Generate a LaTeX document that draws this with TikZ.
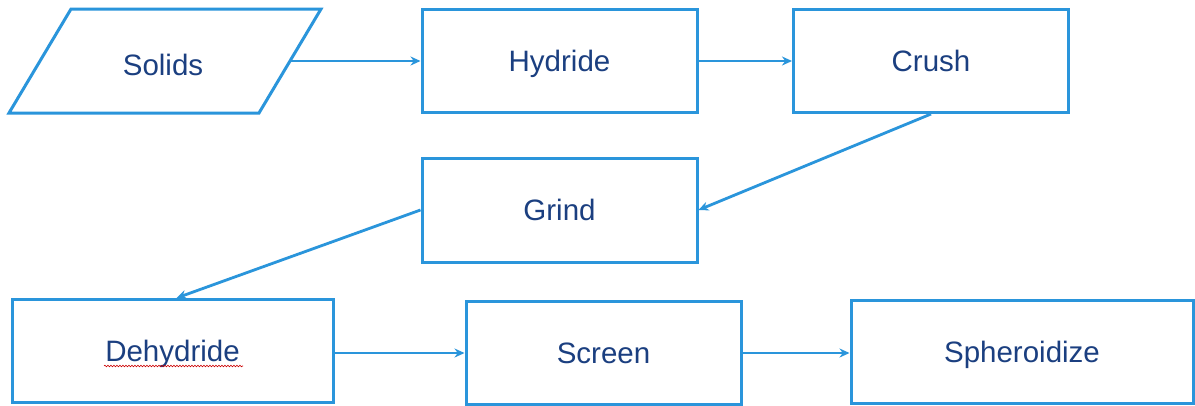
\documentclass[tikz,border=0pt]{standalone}
\usepackage{fontspec}
\setmainfont{Liberation Sans}
\usetikzlibrary{arrows.meta,decorations.pathmorphing,calc}
\definecolor{edgeblue}{HTML}{2A95DB}
\definecolor{txtblue}{HTML}{1B3F80}
\tikzset{
  lbl/.style={text=txtblue, font=\fontsize{29.5}{34}\selectfont, inner sep=0pt,
    text height=21pt, text depth=0pt},
  stepbox/.style={lbl, draw=edgeblue, line width=3pt, fill=white,
    minimum width=275pt, minimum height=103pt},
  iopath/.style={draw=edgeblue, line width=3pt, line join=miter, fill=white},
  flow/.style={draw=edgeblue, line width=2.8pt, -{Stealth[length=10pt,width=9pt]}}
}
\begin{document}
\begin{tikzpicture}[x=1pt,y=-1pt]
\useasboundingbox[fill=white] (0,0) rectangle (1195,405);
\coordinate (sBL) at (9,113);
\coordinate (sTL) at (71,9);
\coordinate (sTR) at (321,9);
\coordinate (sBR) at (259,113);
\draw[iopath] (sBL) -- (sTL) -- (sTR) -- (sBR) -- cycle;
\node[lbl] (solids) at (163,64.5) {Solids};
\coordinate (solidsR) at (291,61);
\node[stepbox] (hydride) at (559.5,61) {Hydride};
\node[stepbox] (crush) at (931,61) {Crush};
\node[stepbox, minimum height=104pt] (grind) at (559.5,210) {Grind};
\node[stepbox, minimum width=321pt] (dehydride) at (172.5,351) {Dehydride};
\node[stepbox] (screen) at (603.5,353) {Screen};
\node[stepbox, minimum width=342pt] (spher) at (1022,351.5) {Spheroidize};
\draw[flow] (solidsR) -- (hydride.west |- solidsR);
\draw[flow] (hydride) -- (crush);
\draw[flow] (crush.south) -- (grind.east);
\draw[flow] (grind.west) -- ($(dehydride.north)+(4,0)$);
\draw[flow] (dehydride.east |- screen.west) -- (screen.west);
\draw[flow] (screen.east) -- (screen.east -| spher.west);
\coordinate (wl) at (104,366);
\coordinate (wr) at (243,366);
\draw[red!80!black, line width=0.6pt, decorate, decoration={snake, amplitude=0.8pt, segment length=3pt}] (wl) -- (wr);
\end{tikzpicture}
\end{document}
